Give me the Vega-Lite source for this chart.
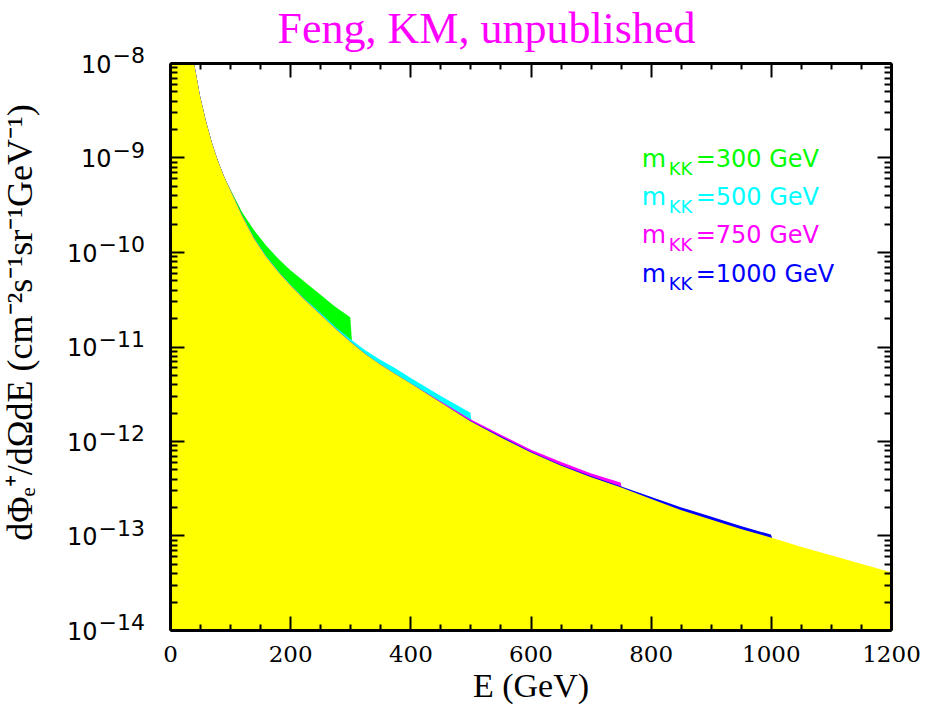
{
  "$schema": "https://vega.github.io/schema/vega-lite/v6.json",
  "width": 721,
  "height": 567,
  "autosize": "none",
  "padding": {"left": 170, "top": 63, "right": 39, "bottom": 74},
  "background": "white",
  "config": {"view": {"stroke": null}},
  "title": {"text": "Feng, KM, unpublished", "color": "#FF00FF", "font": "Liberation Serif", "fontSize": 44, "fontWeight": "normal", "anchor": "middle", "baseline": "alphabetic", "offset": 4, "dx": -44, "dy": 46},
  "datasets": {
    "curves": [
      {"s":"bg","E":0,"f":1e-8},{"s":"bg","E":40,"f":1e-8},{"s":"bg","E":50,"f":4.467e-9},{"s":"bg","E":60,"f":2.399e-9},{"s":"bg","E":70,"f":1.413e-9},{"s":"bg","E":80,"f":9.12e-10},{"s":"bg","E":90,"f":6.31e-10},{"s":"bg","E":100,"f":4.571e-10},{"s":"bg","E":120,"f":2.399e-10},{"s":"bg","E":140,"f":1.38e-10},{"s":"bg","E":160,"f":8.913e-11},{"s":"bg","E":180,"f":6.166e-11},{"s":"bg","E":200,"f":4.467e-11},{"s":"bg","E":225,"f":3.09e-11},{"s":"bg","E":250,"f":2.188e-11},{"s":"bg","E":275,"f":1.549e-11},{"s":"bg","E":300,"f":1.122e-11},{"s":"bg","E":325,"f":8.318e-12},{"s":"bg","E":350,"f":6.457e-12},{"s":"bg","E":375,"f":5.129e-12},{"s":"bg","E":400,"f":4.074e-12},{"s":"bg","E":450,"f":2.57e-12},{"s":"bg","E":500,"f":1.622e-12},{"s":"bg","E":550,"f":1.096e-12},{"s":"bg","E":600,"f":7.586e-13},{"s":"bg","E":650,"f":5.495e-13},{"s":"bg","E":700,"f":4.169e-13},{"s":"bg","E":750,"f":3.236e-13},{"s":"bg","E":800,"f":2.455e-13},{"s":"bg","E":850,"f":1.862e-13},{"s":"bg","E":900,"f":1.479e-13},{"s":"bg","E":950,"f":1.175e-13},{"s":"bg","E":1000,"f":9.55e-14},{"s":"bg","E":1050,"f":7.586e-14},{"s":"bg","E":1100,"f":6.166e-14},{"s":"bg","E":1150,"f":5.012e-14},{"s":"bg","E":1200,"f":4.074e-14},

      {"s":"300","E":0,"f":1e-8},{"s":"300","E":40,"f":1e-8},{"s":"300","E":50,"f":4.467e-9},{"s":"300","E":60,"f":2.399e-9},{"s":"300","E":70,"f":1.413e-9},{"s":"300","E":80,"f":9.12e-10},{"s":"300","E":90,"f":6.31e-10},{"s":"300","E":100,"f":4.677e-10},{"s":"300","E":120,"f":2.63e-10},{"s":"300","E":140,"f":1.698e-10},{"s":"300","E":160,"f":1.175e-10},{"s":"300","E":180,"f":8.511e-11},{"s":"300","E":200,"f":6.457e-11},{"s":"300","E":225,"f":4.786e-11},{"s":"300","E":250,"f":3.548e-11},{"s":"300","E":275,"f":2.63e-11},{"s":"300","E":300,"f":2.042e-11},{"s":"300","E":303,"f":1.096e-11},

      {"s":"500","E":0,"f":1e-8},{"s":"500","E":40,"f":1e-8},{"s":"500","E":50,"f":4.467e-9},{"s":"500","E":60,"f":2.399e-9},{"s":"500","E":70,"f":1.413e-9},{"s":"500","E":80,"f":9.12e-10},{"s":"500","E":90,"f":6.31e-10},{"s":"500","E":100,"f":4.571e-10},{"s":"500","E":120,"f":2.455e-10},{"s":"500","E":140,"f":1.413e-10},{"s":"500","E":160,"f":9.12e-11},{"s":"500","E":180,"f":6.31e-11},{"s":"500","E":200,"f":4.571e-11},{"s":"500","E":225,"f":3.162e-11},{"s":"500","E":250,"f":2.291e-11},{"s":"500","E":275,"f":1.622e-11},{"s":"500","E":300,"f":1.202e-11},{"s":"500","E":325,"f":9.12e-12},{"s":"500","E":350,"f":7.244e-12},{"s":"500","E":375,"f":5.888e-12},{"s":"500","E":400,"f":4.677e-12},{"s":"500","E":450,"f":3.02e-12},{"s":"500","E":500,"f":1.995e-12},{"s":"500","E":502,"f":1.585e-12},

      {"s":"750","E":0,"f":1e-8},{"s":"750","E":40,"f":1e-8},{"s":"750","E":50,"f":4.467e-9},{"s":"750","E":60,"f":2.399e-9},{"s":"750","E":70,"f":1.413e-9},{"s":"750","E":80,"f":9.12e-10},{"s":"750","E":90,"f":6.31e-10},{"s":"750","E":100,"f":4.571e-10},{"s":"750","E":120,"f":2.399e-10},{"s":"750","E":140,"f":1.38e-10},{"s":"750","E":160,"f":8.913e-11},{"s":"750","E":180,"f":6.166e-11},{"s":"750","E":200,"f":4.467e-11},{"s":"750","E":225,"f":3.09e-11},{"s":"750","E":250,"f":2.188e-11},{"s":"750","E":275,"f":1.549e-11},{"s":"750","E":300,"f":1.122e-11},{"s":"750","E":325,"f":8.318e-12},{"s":"750","E":350,"f":6.457e-12},{"s":"750","E":375,"f":5.129e-12},{"s":"750","E":400,"f":4.074e-12},{"s":"750","E":450,"f":2.63e-12},{"s":"750","E":500,"f":1.698e-12},{"s":"750","E":550,"f":1.175e-12},{"s":"750","E":600,"f":8.128e-13},{"s":"750","E":650,"f":6.026e-13},{"s":"750","E":700,"f":4.571e-13},{"s":"750","E":750,"f":3.631e-13},{"s":"750","E":752,"f":3.162e-13},

      {"s":"1000","E":0,"f":1e-8},{"s":"1000","E":40,"f":1e-8},{"s":"1000","E":50,"f":4.467e-9},{"s":"1000","E":60,"f":2.399e-9},{"s":"1000","E":70,"f":1.413e-9},{"s":"1000","E":80,"f":9.12e-10},{"s":"1000","E":90,"f":6.31e-10},{"s":"1000","E":100,"f":4.571e-10},{"s":"1000","E":120,"f":2.399e-10},{"s":"1000","E":140,"f":1.38e-10},{"s":"1000","E":160,"f":8.913e-11},{"s":"1000","E":180,"f":6.166e-11},{"s":"1000","E":200,"f":4.467e-11},{"s":"1000","E":225,"f":3.09e-11},{"s":"1000","E":250,"f":2.188e-11},{"s":"1000","E":275,"f":1.549e-11},{"s":"1000","E":300,"f":1.122e-11},{"s":"1000","E":325,"f":8.318e-12},{"s":"1000","E":350,"f":6.457e-12},{"s":"1000","E":375,"f":5.129e-12},{"s":"1000","E":400,"f":4.074e-12},{"s":"1000","E":450,"f":2.57e-12},{"s":"1000","E":500,"f":1.641e-12},{"s":"1000","E":550,"f":1.122e-12},{"s":"1000","E":600,"f":7.762e-13},{"s":"1000","E":650,"f":5.623e-13},{"s":"1000","E":700,"f":4.266e-13},{"s":"1000","E":750,"f":3.311e-13},{"s":"1000","E":800,"f":2.57e-13},{"s":"1000","E":850,"f":1.995e-13},{"s":"1000","E":900,"f":1.585e-13},{"s":"1000","E":950,"f":1.259e-13},{"s":"1000","E":1000,"f":1.023e-13},{"s":"1000","E":1002,"f":9.55e-14}
    ],
    "expo": [
      {"v":1e-8,"t":"−8"},{"v":1e-9,"t":"−9"},{"v":1e-10,"t":"−10"},{"v":1e-11,"t":"−11"},{"v":1e-12,"t":"−12"},{"v":1e-13,"t":"−13"},{"v":1e-14,"t":"−14"}
    ],
    "legend": [
      {"s":"300","v":8.0e-10,"t":"=300 GeV"},{"s":"500","v":3.14e-10,"t":"=500 GeV"},{"s":"750","v":1.236e-10,"t":"=750 GeV"},{"s":"1000","v":4.85e-11,"t":"=1000 GeV"}
    ]
  },
  "resolve": {"scale": {"x": "shared", "y": "shared"}, "axis": {"x": "independent", "y": "independent"}},
  "layer": [
    {
      "data": {"name": "curves"},
      "transform": [{"filter": "datum.s == '300'"}],
      "mark": {"type": "area", "clip": true, "color": "#00FF00", "interpolate": "linear"},
      "encoding": {
        "x": {"field": "E", "type": "quantitative", "scale": {"domain": [0, 1200], "nice": false, "zero": false},
          "axis": {"orient": "bottom", "values": [0,200,400,600,800,1000,1200], "format": "d", "tickSize": -14, "tickWidth": 2, "tickColor": "black", "domain": true, "domainWidth": 3, "domainColor": "black", "grid": false, "zindex": 2,
            "labelFont": "DejaVu Serif", "labelFontSize": 23, "labelColor": "black", "labelFlush": false, "labelBaseline": "top", "labelPadding": 27, "labelAngle": 0,
            "title": "E (GeV)", "titleFont": "Liberation Serif", "titleFontSize": 34, "titleFontWeight": "normal", "titleColor": "black", "titleBaseline": "alphabetic", "titleY": 66}},
        "y": {"field": "f", "type": "quantitative", "scale": {"type": "log", "domain": [1e-14, 1e-8], "nice": false},
          "axis": {"orient": "left", "values": [1e-14,1e-13,1e-12,1e-11,1e-10,1e-9,1e-8], "tickSize": -14, "tickWidth": 2, "tickColor": "black", "domain": true, "domainWidth": 3, "domainColor": "black", "grid": false, "zindex": 2,
            "labelExpr": "'10'", "labelFont": "DejaVu Sans", "labelFontSize": 24, "labelColor": "black", "labelFlush": false, "labelAlign": "right", "labelBaseline": "middle", "labelOffset": 2,
            "labelPadding": {"condition": {"test": "datum.value < 3e-10", "value": 87}, "value": 73},
            "title": "dΦₑ⁺/dΩdE (cm⁻²s⁻¹sr⁻¹GeV⁻¹)", "titleFont": "Liberation Serif", "titleFontSize": 36, "titleFontWeight": "normal", "titleColor": "black", "titleX": -131, "titleY": 259}},
        "y2": {"datum": 1e-14}
      }
    },
    {
      "data": {"name": "curves"},
      "transform": [{"filter": "datum.s == '500'"}],
      "mark": {"type": "area", "clip": true, "color": "#00FFFF"},
      "encoding": {
        "x": {"field": "E", "type": "quantitative", "scale": {"domain": [0, 1200], "nice": false, "zero": false},
          "axis": {"orient": "bottom", "values": [50,100,150,250,300,350,450,500,550,650,700,750,850,900,950,1050,1100,1150], "tickSize": -6, "tickWidth": 2, "tickColor": "black", "domain": false, "grid": false, "labels": false, "title": null, "zindex": 2}},
        "y": {"field": "f", "type": "quantitative",
          "axis": {"orient": "left", "values": [2e-14,3e-14,4e-14,5e-14,6e-14,7e-14,8e-14,9e-14,2e-13,3e-13,4e-13,5e-13,6e-13,7e-13,8e-13,9e-13,2e-12,3e-12,4e-12,5e-12,6e-12,7e-12,8e-12,9e-12,2e-11,3e-11,4e-11,5e-11,6e-11,7e-11,8e-11,9e-11,2e-10,3e-10,4e-10,5e-10,6e-10,7e-10,8e-10,9e-10,2e-9,3e-9,4e-9,5e-9,6e-9,7e-9,8e-9,9e-9], "tickSize": -7, "tickWidth": 2, "tickColor": "black", "domain": false, "grid": false, "labels": false, "title": null, "zindex": 2}},
        "y2": {"datum": 1e-14}
      }
    },
    {
      "data": {"name": "curves"},
      "transform": [{"filter": "datum.s == '750'"}],
      "mark": {"type": "area", "clip": true, "color": "#FF00FF"},
      "encoding": {
        "x": {"field": "E", "type": "quantitative",
          "axis": {"orient": "top", "values": [0,200,400,600,800,1000,1200], "tickSize": -14, "tickWidth": 2, "tickColor": "black", "domain": true, "domainWidth": 3, "domainColor": "black", "grid": false, "labels": false, "title": null, "zindex": 2}},
        "y": {"field": "f", "type": "quantitative",
          "axis": {"orient": "right", "values": [1e-14,1e-13,1e-12,1e-11,1e-10,1e-9,1e-8], "tickSize": -14, "tickWidth": 2, "tickColor": "black", "domain": true, "domainWidth": 3, "domainColor": "black", "grid": false, "labels": false, "title": null, "zindex": 2}},
        "y2": {"datum": 1e-14}
      }
    },
    {
      "data": {"name": "curves"},
      "transform": [{"filter": "datum.s == '1000'"}],
      "mark": {"type": "area", "clip": true, "color": "#0000FF"},
      "encoding": {
        "x": {"field": "E", "type": "quantitative",
          "axis": {"orient": "top", "values": [50,100,150,250,300,350,450,500,550,650,700,750,850,900,950,1050,1100,1150], "tickSize": -6, "tickWidth": 2, "tickColor": "black", "domain": false, "grid": false, "labels": false, "title": null, "zindex": 2}},
        "y": {"field": "f", "type": "quantitative",
          "axis": {"orient": "right", "values": [2e-14,3e-14,4e-14,5e-14,6e-14,7e-14,8e-14,9e-14,2e-13,3e-13,4e-13,5e-13,6e-13,7e-13,8e-13,9e-13,2e-12,3e-12,4e-12,5e-12,6e-12,7e-12,8e-12,9e-12,2e-11,3e-11,4e-11,5e-11,6e-11,7e-11,8e-11,9e-11,2e-10,3e-10,4e-10,5e-10,6e-10,7e-10,8e-10,9e-10,2e-9,3e-9,4e-9,5e-9,6e-9,7e-9,8e-9,9e-9], "tickSize": -7, "tickWidth": 2, "tickColor": "black", "domain": false, "grid": false, "labels": false, "title": null, "zindex": 2}},
        "y2": {"datum": 1e-14}
      }
    },
    {
      "data": {"name": "curves"},
      "transform": [{"filter": "datum.s == 'bg'"}],
      "mark": {"type": "area", "clip": true, "color": "#FFFF00"},
      "encoding": {
        "x": {"field": "E", "type": "quantitative", "axis": null},
        "y": {"field": "f", "type": "quantitative", "axis": null},
        "y2": {"datum": 1e-14}
      }
    },
    {
      "data": {"name": "expo"},
      "mark": {"type": "text", "align": "right", "baseline": "middle", "dx": -25, "dy": -7, "font": "DejaVu Sans", "fontSize": 22, "color": "black"},
      "encoding": {
        "x": {"datum": 0, "type": "quantitative", "axis": null},
        "y": {"field": "v", "type": "quantitative", "axis": null},
        "text": {"field": "t"}
      }
    },
    {
      "data": {"name": "legend"},
      "mark": {"type": "text", "align": "left", "baseline": "alphabetic", "font": "DejaVu Sans", "fontSize": 25},
      "encoding": {
        "x": {"datum": 785, "type": "quantitative", "axis": null},
        "y": {"field": "v", "type": "quantitative", "axis": null},
        "text": {"value": "m"},
        "color": {"field": "s", "type": "nominal", "scale": {"domain": ["300","500","750","1000"], "range": ["#00FF00","#00FFFF","#FF00FF","#0000FF"]}, "legend": null}
      }
    },
    {
      "data": {"name": "legend"},
      "mark": {"type": "text", "align": "left", "baseline": "alphabetic", "font": "DejaVu Sans", "fontSize": 18, "dx": 27, "dy": 8},
      "encoding": {
        "x": {"datum": 785, "type": "quantitative", "axis": null},
        "y": {"field": "v", "type": "quantitative", "axis": null},
        "text": {"value": "KK"},
        "color": {"field": "s", "type": "nominal", "legend": null}
      }
    },
    {
      "data": {"name": "legend"},
      "mark": {"type": "text", "align": "left", "baseline": "alphabetic", "font": "DejaVu Sans", "fontSize": 24, "dx": 54},
      "encoding": {
        "x": {"datum": 785, "type": "quantitative", "axis": null},
        "y": {"field": "v", "type": "quantitative", "axis": null},
        "text": {"field": "t"},
        "color": {"field": "s", "type": "nominal", "legend": null}
      }
    }
  ]
}
